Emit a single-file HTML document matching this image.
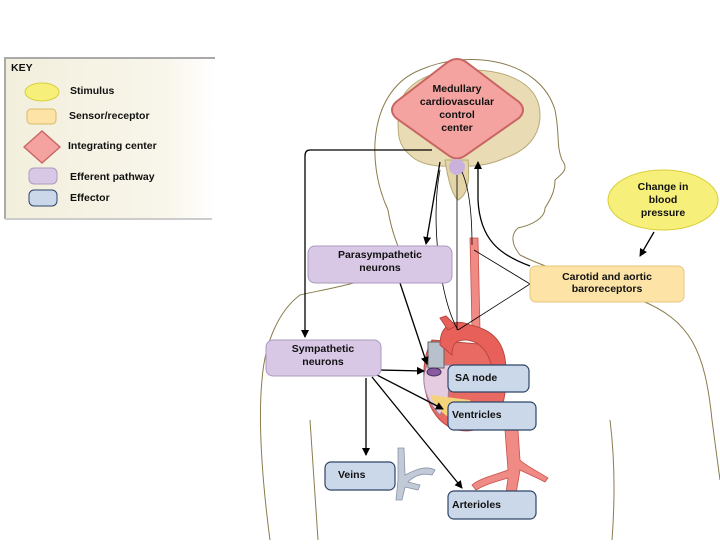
<!DOCTYPE html>
<html><head><style>
body{margin:0;width:720px;height:540px;background:#fff;overflow:hidden;font-family:"Liberation Sans",sans-serif;}
svg text{font-family:"Liberation Sans",sans-serif;font-size:10.5px;font-weight:bold;fill:#111;}
</style></head><body>
<svg width="720" height="540" viewBox="0 0 720 540">
<defs>
<linearGradient id="kg" x1="0" x2="1"><stop offset="0" stop-color="#f3efdd"/><stop offset="0.75" stop-color="#f8f5ea"/><stop offset="1" stop-color="#fff"/></linearGradient>
<marker id="ar" markerWidth="8" markerHeight="8" refX="7" refY="4" orient="auto" markerUnits="userSpaceOnUse"><path d="M0,0 L8,4 L0,8 z" fill="#000"/></marker>
</defs>
<!-- key -->
<rect x="5" y="58" width="210" height="161" fill="url(#kg)"/>
<path d="M5,219 L5,58 L215,58" fill="none" stroke="#aaa" stroke-width="2"/>
<path d="M5,219 L212,219" stroke="#ccc" stroke-width="2"/>
<text x="11" y="71" font-size="10">KEY</text>
<ellipse cx="42" cy="92" rx="17" ry="9" fill="#f6f07a" stroke="#d8cf3a"/>
<text x="70" y="94">Stimulus</text>
<rect x="27" y="109" width="29" height="15" rx="4" fill="#fde3a6" stroke="#d9b868"/>
<text x="69" y="119">Sensor/receptor</text>
<path d="M42,131 L60,147 L42,163 L24,147 Z" fill="#f5a3a0" stroke="#c96663" stroke-linejoin="round" stroke-width="1.5"/>
<text x="68" y="149">Integrating center</text>
<rect x="29" y="168" width="28" height="16" rx="5" fill="#d8c8e6" stroke="#ab9ac0"/>
<text x="70" y="180">Efferent pathway</text>
<rect x="29" y="190" width="28" height="16" rx="5" fill="#cbd8ea" stroke="#2e4468"/>
<text x="70" y="201">Effector</text>

<!-- body outline -->
<g fill="none" stroke="#8a7c4e" stroke-width="1">
<path d="M388,210 C365,160 370,90 420,70 C470,48 540,60 555,110 C560,135 556,145 562,160 C570,170 560,175 555,180 C555,192 550,200 545,208 C545,218 532,225 518,228 C510,235 512,245 520,255"/>
<path d="M388,210 C392,235 400,250 405,265"/>
<path d="M520,255 C560,275 600,280 640,300"/>
<path d="M405,265 C360,285 320,290 300,295 C280,310 265,340 262,380 C258,420 262,480 270,540"/>
<path d="M640,300 C690,320 705,350 712,420 L720,480"/>
<path d="M310,420 C312,450 315,490 318,540"/>
<path d="M610,420 C615,460 615,500 612,540"/>
</g>
<!-- brain -->
<path d="M398,120 C395,85 430,68 470,70 C510,70 540,85 540,115 C540,135 528,150 505,158 C490,165 470,168 455,165 C440,168 420,165 410,155 C398,145 398,135 398,120 Z" fill="#e9dcb4" stroke="#b9a978"/>
<path d="M445,160 C448,180 452,195 458,200 C468,195 470,180 468,160 Z" fill="#e3d5a8" stroke="#b9a978"/>
<!-- diamond -->
<path d="M448,62 Q457,56 466,62 L519,102 Q527,110 519,118 L466,155 Q457,162 448,155 L396,118 Q388,110 396,102 Z" fill="#f5a3a0" stroke="#c96663" stroke-width="2"/>
<text x="457" y="92" text-anchor="middle">Medullary</text>
<text x="457" y="105" text-anchor="middle">cardiovascular</text>
<text x="457" y="118" text-anchor="middle">control</text>
<text x="457" y="131" text-anchor="middle">center</text>
<circle cx="457" cy="167" r="8" fill="#c9b3dc"/>

<!-- carotid artery -->
<path d="M470,238 L472,330 L480,330 L478,238 Z" fill="#ef8a84" stroke="#c9504a" stroke-width="0.8"/>
<!-- heart -->
<path d="M432,340 C420,360 420,400 440,420 C460,440 490,430 500,410 C510,390 505,360 490,345 Z" fill="#e86a62" stroke="#b84840"/>
<path d="M427,365 C420,380 425,400 440,415 L448,400 L450,365 Z" fill="#e6cce0" stroke="#a080a0"/>
<path d="M430,395 C440,420 470,430 480,420 L470,400 Z" fill="#f4d37a"/>
<rect x="428" y="342" width="16" height="26" fill="#b8c0cc" stroke="#666"/>
<path d="M440,345 C440,320 460,320 470,325 C495,330 510,345 505,385 L492,385 C495,355 480,340 465,340 C455,340 452,345 452,355 Z" fill="#e8605a" stroke="#b84840"/>
<path d="M448,330 L440,318 L446,316 L456,326 Z" fill="#e8605a" stroke="#b84840"/>
<ellipse cx="434" cy="372" rx="7" ry="4" fill="#8a5aa0" stroke="#40305a"/>
<!-- aorta descending -->
<path d="M505,430 L508,470 C495,475 480,478 472,485 L476,490 C486,484 495,482 508,478 L505,500 L515,500 L520,470 C530,475 538,478 545,482 L548,478 C535,470 525,465 520,460 L518,430 Z" fill="#ef8a84" stroke="#c9504a" stroke-width="0.8"/>
<!-- veins -->
<path d="M398,448 L404,448 L405,475 C415,470 425,465 435,470 L432,475 C420,472 412,478 408,482 L420,485 L418,490 L405,487 L402,500 L396,500 L398,480 Z" fill="#c2cad8" stroke="#8a94a8" stroke-width="0.8"/>

<!-- connectors -->
<g fill="none" stroke="#000" stroke-width="1.3">
<path d="M432,150 L310,150 Q305,150 305,156 L305,337" marker-end="url(#ar)"/>
<path d="M440,162 L426,244" marker-end="url(#ar)"/>
<path d="M400,283 L427,364" marker-end="url(#ar)"/>
<path d="M378,370 L424,371" marker-end="url(#ar)"/>
<path d="M375,374 L443,409" marker-end="url(#ar)"/>
<path d="M372,377 L462,488" marker-end="url(#ar)"/>
<path d="M366,378 L366,455" marker-end="url(#ar)"/>
<path d="M654,232 L640,256" marker-end="url(#ar)"/>
<path d="M530,266 C500,255 480,240 478,200 L478,162" marker-end="url(#ar)"/>
</g>
<g fill="none" stroke="#000" stroke-width="0.8">
<path d="M530,284 L474,250"/>
<path d="M530,284 L458,330"/>
<path d="M457,175 L457,330"/>
<path d="M462,172 C470,190 472,220 472,245"/>
<path d="M440,170 C430,220 440,300 458,330"/>
</g>

<!-- nodes -->
<ellipse cx="663" cy="200" rx="55" ry="30" fill="#f6f07a" stroke="#d8cf3a"/>
<text x="663" y="190" text-anchor="middle">Change in</text>
<text x="663" y="203" text-anchor="middle">blood</text>
<text x="663" y="216" text-anchor="middle">pressure</text>
<rect x="530" y="266" width="154" height="36" rx="6" fill="#fde3a6" stroke="#e6c77c"/>
<text x="607" y="280" text-anchor="middle">Carotid and aortic</text>
<text x="607" y="292" text-anchor="middle">baroreceptors</text>
<rect x="308" y="246" width="144" height="37" rx="7" fill="#d8c8e6" stroke="#ab9ac0"/>
<text x="380" y="258" text-anchor="middle">Parasympathetic</text>
<text x="380" y="271" text-anchor="middle">neurons</text>
<rect x="266" y="340" width="115" height="36" rx="7" fill="#d8c8e6" stroke="#ab9ac0"/>
<text x="323" y="352" text-anchor="middle">Sympathetic</text>
<text x="323" y="365" text-anchor="middle">neurons</text>
<rect x="448" y="365" width="81" height="27" rx="6" fill="#cbd8ea" stroke="#2e4468" stroke-width="1.2"/>
<text x="455" y="381">SA node</text>
<rect x="448" y="402" width="88" height="28" rx="6" fill="#cbd8ea" stroke="#2e4468" stroke-width="1.2"/>
<text x="452" y="418">Ventricles</text>
<rect x="325" y="462" width="70" height="28" rx="6" fill="#cbd8ea" stroke="#2e4468" stroke-width="1.2"/>
<text x="338" y="478">Veins</text>
<rect x="448" y="491" width="88" height="28" rx="6" fill="#cbd8ea" stroke="#2e4468" stroke-width="1.2"/>
<text x="452" y="508">Arterioles</text>
</svg>
</body></html>
